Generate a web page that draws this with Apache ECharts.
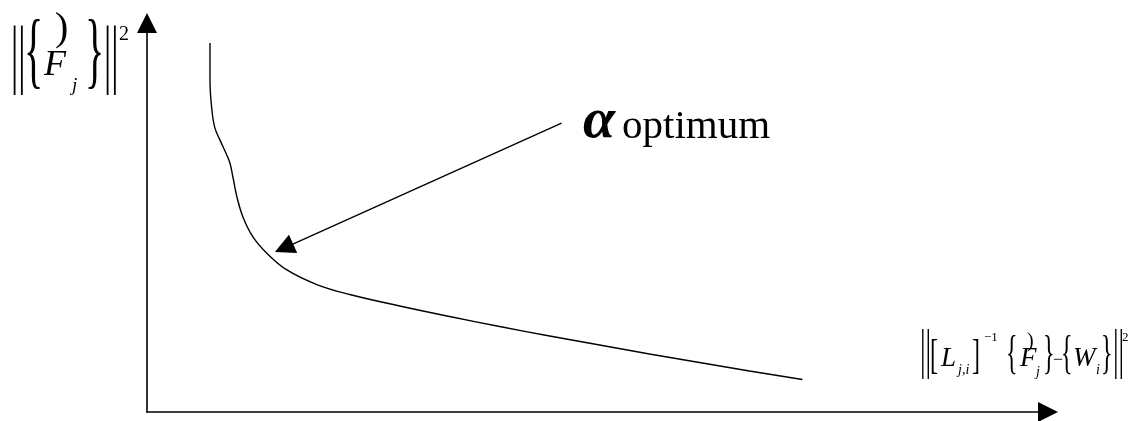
<!DOCTYPE html>
<html>
<head>
<meta charset="utf-8">
<script src="https://cdn.jsdelivr.net/npm/echarts@6/dist/echarts.min.js"></script>
<style>
  html, body { margin: 0; background: #fff; }
  #chart { width: 1131px; height: 421px; }
</style>
</head>
<body>
<div id="chart"></div>
<script>
// L-curve sketch: solution norm against residual norm, with the optimum alpha marked

const curveX = [6.92, 6.92, 7.13, 7.46, 8.01, 8.67, 9.11, 9.44, 9.88, 10.54, 11.64, 13.17,
                15.37, 18.66, 22.28, 27.77, 33.26, 38.75, 44.24, 49.73, 55.21, 60.70, 66.19, 72.01];
const curveY = [92.5, 83.2, 75.7, 71.2, 68.2, 64.9, 62.4, 58.9, 53.9, 48.9, 43.9, 39.8,
                35.6, 31.95, 29.45, 26.57, 23.93, 21.43, 19.05, 16.79, 14.54, 12.41, 10.28, 8.15];

// pointer from the label to the corner of the curve
const arrowFrom = [45.55, 72.4];
const arrowTo = [15.05, 41.1];

const xMax = 99;
const yMax = 97.5;

const serif = '"Liberation Serif", "Times New Roman", serif';

function txt(text, x, y, size, italic, sy, bold) {
    return {
        type: 'text',
        x: x,
        y: y,
        scaleY: sy || 1,
        silent: true,
        style: {
            text: text,
            fontSize: size,
            fontFamily: serif,
            fontStyle: italic ? 'italic' : 'normal',
            fontWeight: bold ? 'bold' : 'normal',
            fill: '#000',
            align: 'left',
            verticalAlign: 'middle',
            textAlign: 'left',
            textVerticalAlign: 'middle'
        }
    };
}

// y axis title  ||{F^_j}||^2
const yTitle = [
    txt('||', 11, 59, 36, false, 2.12),
    txt('{', 24, 56, 40, false, 2.1),
    txt(')', 55, 29, 40, false, 1),
    txt('F', 44, 66, 36, true),
    txt('j', 72, 86, 19, true),
    txt('}', 85, 56, 40, false, 2.1),
    txt('||', 104, 59, 36, false, 2.12),
    txt('2', 119, 35, 20, false)
];

// x axis title  ||[L_j,i]^-1 {F^_j} - {W_i}||^2
const xTitle = [
    txt('||', 920, 352.5, 28, false, 1.97),
    txt('[', 930, 356.7, 24, false, 1.78),
    txt('L', 941, 359, 27, true),
    txt('j,i', 958, 370, 14, true),
    txt(']', 972, 356.7, 24, false, 1.78),
    txt('\u22121', 984, 338, 13, false),
    txt('{', 1006, 355.8, 24, false, 1.96),
    txt(')', 1027, 342, 20, false),
    txt('F', 1020, 359, 27, true),
    txt('j', 1036, 372, 14, true),
    txt('}', 1043, 355.8, 24, false, 1.96),
    txt('\u2212', 1053, 360.2, 18, false),
    txt('{', 1061, 355.8, 24, false, 1.96),
    txt('W', 1073, 359, 27, true),
    txt('i', 1096, 370, 14, true),
    txt('}', 1101, 355.8, 24, false, 1.96),
    txt('||', 1113, 352.5, 28, false, 1.97),
    txt('2', 1122, 337.5, 13, false)
];

const optimumTitle = [
    txt('\u03b1', 583, 122, 58, true, 1, true),
    txt('optimum', 622, 127.7, 41, false)
];

const chart = echarts.init(document.getElementById('chart'));

const axisCommon = {
    type: 'value',
    min: 0,
    axisLine: {
        show: true,
        onZero: false,
        symbol: ['none', 'triangle'],
        symbolSize: [20, 20],
        lineStyle: { color: '#000', width: 1.6 }
    },
    axisTick: { show: false },
    axisLabel: { show: false },
    splitLine: { show: false }
};

chart.setOption({
    animation: false,
    backgroundColor: '#fff',
    grid: { left: 147, right: 83, top: 23, bottom: 9, containLabel: false, outerBoundsMode: 'none' },
    xAxis: Object.assign({}, axisCommon, { max: xMax }),
    yAxis: Object.assign({}, axisCommon, { max: yMax }),
    graphic: { elements: yTitle.concat(xTitle, optimumTitle) },
    series: [
        {
            type: 'line',
            data: curveX.map((x, i) => [x, curveY[i]]),
            smooth: 0.4,
            symbol: 'none',
            silent: true,
            lineStyle: { color: '#000', width: 1.4 }
        },
        {
            type: 'lines',
            coordinateSystem: 'cartesian2d',
            data: [{ coords: [arrowFrom, arrowTo] }],
            symbol: ['none', 'triangle'],
            symbolSize: [18, 20],
            silent: true,
            itemStyle: { color: '#000' },
            lineStyle: { color: '#000', width: 1.4, opacity: 1, curveness: 0 }
        }
    ]
});
</script>
</body>
</html>
